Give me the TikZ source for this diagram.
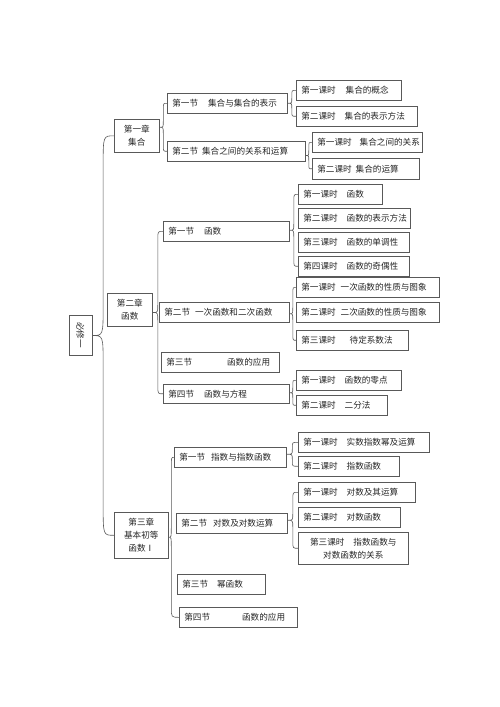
\documentclass[tikz,border=0pt]{standalone}
\usepackage{fontspec}
\setmainfont{Noto Sans CJK SC}
\usetikzlibrary{calc}
\tikzset{
  bx/.style={draw=black!65, line width=0.6pt, inner xsep=5pt, inner ysep=2pt,
    font=\fontsize{8.6}{13}\selectfont, text=black!85},
  conn/.style={draw=black!65, line width=0.6pt},
}
\newcommand{\bx}[7][left]{%
  \pgfmathsetmacro{\bw}{#5-#3-10}%
  \pgfmathsetmacro{\bh}{#6-#4}%
  \node[bx, align=#1, text width=\bw pt, minimum height=\bh pt, anchor=north west]
    (#2) at (#3pt,-#4pt) {#7};}
\newcommand{\brc}[4]{%
  \draw[conn] let \p1=(#1), \p2=(#2.west), \p3=(#3.west),
    \n1={0.5*(\x1+\x2)}, \n2={0.5*(\y2+\y3)} in
    (\p2) .. controls (\n1,\y2) .. (\n1,\y2-#4) -- (\n1,\n2+#4)
          .. controls (\n1,\n2) .. (\x1,\n2)
    (\p3) .. controls (\n1,\y3) .. (\n1,\y3+#4) -- (\n1,\n2-#4)
          .. controls (\n1,\n2) .. (\x1,\n2);}
\begin{document}
\begin{tikzpicture}
\fill[white] (0,0) rectangle (500pt,-707pt);
\useasboundingbox (0,0) rectangle (500pt,-707pt);

% root
\node[bx, rotate=-90, minimum width=40pt, minimum height=23pt, inner sep=0pt]
  (root) at (80.5pt,-335pt) {必修一};

% chapter 1
\bx[center]{ch1}{114}{119}{159}{152}{第一章\\集合}
\bx{s11}{167}{93}{287}{113}{第一节\kern10pt 集合与集合的表示}
\bx{s12}{167}{141}{305}{161}{第二节\kern4pt 集合之间的关系和运算}
\bx{l111}{296}{80}{401}{100}{第一课时\kern10pt 集合的概念}
\bx{l112}{296}{106}{417}{126}{第二课时\kern9pt 集合的表示方法}
\bx{l121}{312}{132}{422}{152}{第一课时\kern8pt 集合之间的关系}
\bx{l122}{312}{158}{419}{179}{第二课时\kern4pt 集合的运算}

% chapter 2
\bx[center]{ch2}{107}{293}{152}{326}{第二章\\函数}
\bx{s21}{163}{221}{289}{241}{第一节\kern10pt 函数}
\bx{s22}{159}{302}{289}{322}{第二节\kern5pt 一次函数和二次函数}
\bx{s23}{161}{352}{279}{372}{第三节\kern35pt 函数的应用}
\bx{s24}{163}{384}{289}{403}{第四节\kern10pt 函数与方程}
\bx{l211}{298}{184}{382}{204}{第一课时\kern9pt 函数}
\bx{l212}{298}{208}{410}{228}{第二课时\kern9pt 函数的表示方法}
\bx{l213}{298}{232}{409}{252}{第三课时\kern9pt 函数的单调性}
\bx{l214}{298}{256}{409}{276}{第四课时\kern9pt 函数的奇偶性}
\bx{l221}{296}{277}{439}{297}{第一课时\kern5pt 一次函数的性质与图象}
\bx{l222}{296}{302}{439}{322}{第二课时\kern5pt 二次函数的性质与图象}
\bx{l223}{296}{330}{408}{350}{第三课时\kern14pt 待定系数法}
\bx{l241}{296}{370}{401}{390}{第一课时\kern9pt 函数的零点}
\bx{l242}{296}{395}{387}{415}{第二课时\kern9pt 二分法}

% chapter 3
\bx[center]{ch3}{114}{512}{168}{558}{第三章\\基本初等\\函数Ⅰ}
\bx{s31}{174}{447}{286}{467}{第一节\kern6pt 指数与指数函数}
\bx{s32}{176}{513}{287}{533}{第二节\kern6pt 对数及对数运算}
\bx{s33}{177}{574}{265}{594}{第三节\kern9pt 幂函数}
\bx{s34}{179}{607}{297}{627}{第四节\kern32pt 函数的应用}
\bx{l311}{298}{432}{429}{452}{第一课时\kern9pt 实数指数幂及运算}
\bx{l312}{298}{456}{399}{476}{第二课时\kern9pt 指数函数}
\bx{l321}{298}{482}{415}{502}{第一课时\kern9pt 对数及其运算}
\bx{l322}{298}{507}{400}{527}{第二课时\kern9pt 对数函数}
\bx[center]{l323}{298}{532}{408}{564}{第三课时\kern9pt 指数函数与\\对数函数的关系}

% braces
\brc{root.north}{ch1}{ch3}{30pt}
\brc{ch1.east}{s11}{s12}{6pt}
\brc{s11.east}{l111}{l112}{5pt}
\brc{s12.east}{l121}{l122}{5pt}
\brc{ch2.east}{s21}{s24}{8pt}
\brc{s21.east}{l211}{l214}{7pt}
\brc{s22.east}{l221}{l223}{7pt}
\brc{s24.east}{l241}{l242}{5pt}
\brc{ch3.east}{s31}{s34}{10pt}
\brc{s31.east}{l311}{l312}{5pt}
\brc{s32.east}{l321}{l323}{7pt}
\end{tikzpicture}
\end{document}
